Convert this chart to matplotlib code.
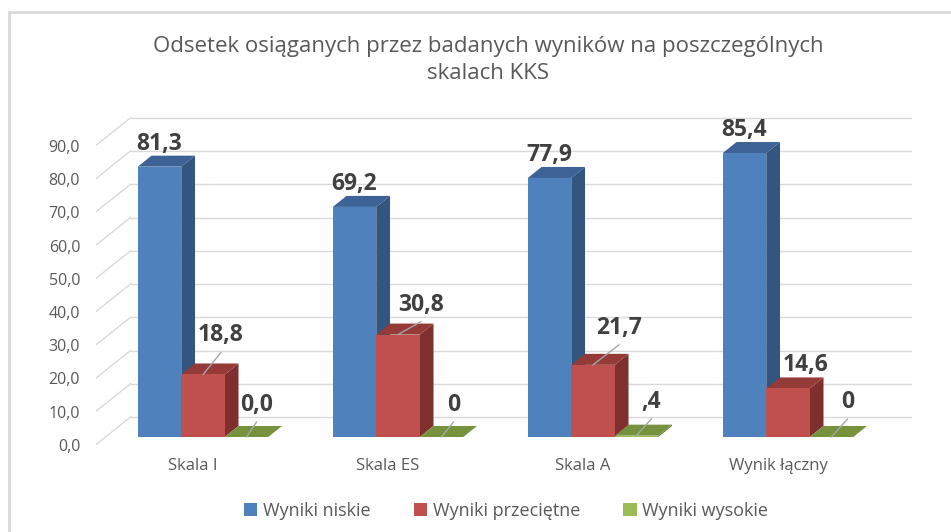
import matplotlib
matplotlib.use('Agg')
import matplotlib.pyplot as plt
from matplotlib.patches import Polygon, Patch, Rectangle

plt.rcParams['font.family'] = ['Open Sans', 'DejaVu Sans']

# dane
categories = ['Skala I', 'Skala ES', 'Skala A', 'Wynik łączny']
series = ['Wyniki niskie', 'Wyniki przeciętne', 'Wyniki wysokie']
niskie = [81.3, 69.2, 77.9, 85.4]
przecietne = [18.8, 30.8, 21.7, 14.6]
wysokie = [0.0, 0.0, 0.4, 0.0]
labels_niskie = ['81,3', '69,2', '77,9', '85,4']
labels_przecietne = ['18,8', '30,8', '21,7', '14,6']
labels_wysokie = ['0,0', '0', ',4', '0']
yticks = [0, 10, 20, 30, 40, 50, 60, 70, 80, 90]
ytick_labels = ['0,0', '10,0', '20,0', '30,0', '40,0', '50,0', '60,0', '70,0', '80,0', '90,0']

values = [niskie, przecietne, wysokie]
texts = [labels_niskie, labels_przecietne, labels_wysokie]

# kolory: front, bok, góra
front = ['#4F81BD', '#C0504D', '#9BBB59']
side = ['#34557F', '#7F302E', '#5F7530']
top = ['#3C6296', '#943A37', '#76923C']

# przesunięcia etykiet (piksele) od środka górnej krawędzi słupka
label_off = [
    [(0, 23), (0, 23), (0, 23), (0, 23)],
    [(18, 39), (23, 30), (26, 37), (18, 23)],
    [(10, 32), (12, 32), (15, 34), (16, 35)],
]
leader = [
    [False, False, False, False],
    [True, True, True, False],
    [True, True, True, True],
]

# geometria pseudo-3D
DX = 35 / 195      # przesunięcie w głąb (oś x, jednostki kategorii)
DY = 28 / 3.325    # przesunięcie w głąb (oś y, jednostki wartości)
d0 = 0.286         # głębokość przedniej ściany słupków
bd = 0.393         # głębokość słupka
w = 0.223          # szerokość słupka

fig = plt.figure(figsize=(9.51, 5.32), dpi=100)
ax = fig.add_axes([95.5 / 951, (532 - 445) / 532, 819 / 951, 332.5 / 532])
ax.set_xlim(-0.5, 3.7)
ax.set_ylim(0, 100)
for s in ax.spines.values():
    s.set_visible(False)

# siatka: ściana tylna + skosy po lewej
grid_c = '#D9D9D9'
for v in yticks:
    ax.plot([-0.5, -0.5 + DX], [v, v + DY], color=grid_c, lw=1, zorder=0)
    ax.plot([-0.5 + DX, 3.5 + DX], [v + DY, v + DY], color=grid_c, lw=1, zorder=0)

ax.set_yticks(yticks, ytick_labels)
ax.set_xticks(range(len(categories)), categories)
ax.tick_params(axis='y', length=0, pad=11, labelsize=11.5, labelcolor='#595959')
ax.tick_params(axis='x', length=0, pad=9, labelsize=12, labelcolor='#595959')

ox = d0 * DX
oy = d0 * DY
sx = bd * DX
sy = bd * DY
for i in range(len(categories)):
    for j in range(3):
        v = values[j][i]
        x0 = i + ox - 1.5 * w + j * w
        x1 = x0 + w
        yb = oy
        yt = oy + v
        z = 2 + i * 3 + j
        ax.add_patch(Polygon([(x1, yb), (x1 + sx, yb + sy), (x1 + sx, yt + sy), (x1, yt)],
                             closed=True, facecolor=side[j], edgecolor='none', zorder=z))
        ax.add_patch(Polygon([(x0, yt), (x1, yt), (x1 + sx, yt + sy), (x0 + sx, yt + sy)],
                             closed=True, facecolor=top[j], edgecolor='none', zorder=z))
        ax.bar(x0, v, width=w, bottom=yb, align='edge', color=front[j], zorder=z)
        cx = x0 + w / 2
        offx, offy = label_off[j][i]
        ax.annotate(texts[j][i], (cx, yt), xytext=(offx, offy), textcoords='offset pixels',
                    ha='center', va='center', fontsize=16.5, fontweight='bold',
                    color='#404040', zorder=50)
        if leader[j][i]:
            ax.annotate('', (cx, yt), xytext=(offx, offy - 17), textcoords='offset pixels',
                        arrowprops=dict(arrowstyle='-', color='#A6A6A6', lw=1,
                                        shrinkA=0, shrinkB=0), zorder=49)

fig.text(488 / 951, 1 - 60 / 532,
         'Odsetek osiąganych przez badanych wyników na poszczególnych\nskalach KKS',
         ha='center', va='center', fontsize=16, color='#595959', linespacing=1.4)

handles = [Patch(facecolor=front[k], edgecolor='none') for k in range(3)]
fig.legend(handles, series, loc='center', bbox_to_anchor=(506 / 951, 1 - 511 / 532),
           ncol=3, frameon=False, fontsize=13, handlelength=0.75, handleheight=0.75,
           handletextpad=0.3, columnspacing=2.4, labelcolor='#595959')

fig.patches.append(Rectangle((8.5 / 951, -0.1), 1.2, (532 - 11.5) / 532 + 0.1,
                             transform=fig.transFigure, fill=False,
                             edgecolor='#D9D9D9', lw=2))

fig.savefig('out.png', dpi=100)
